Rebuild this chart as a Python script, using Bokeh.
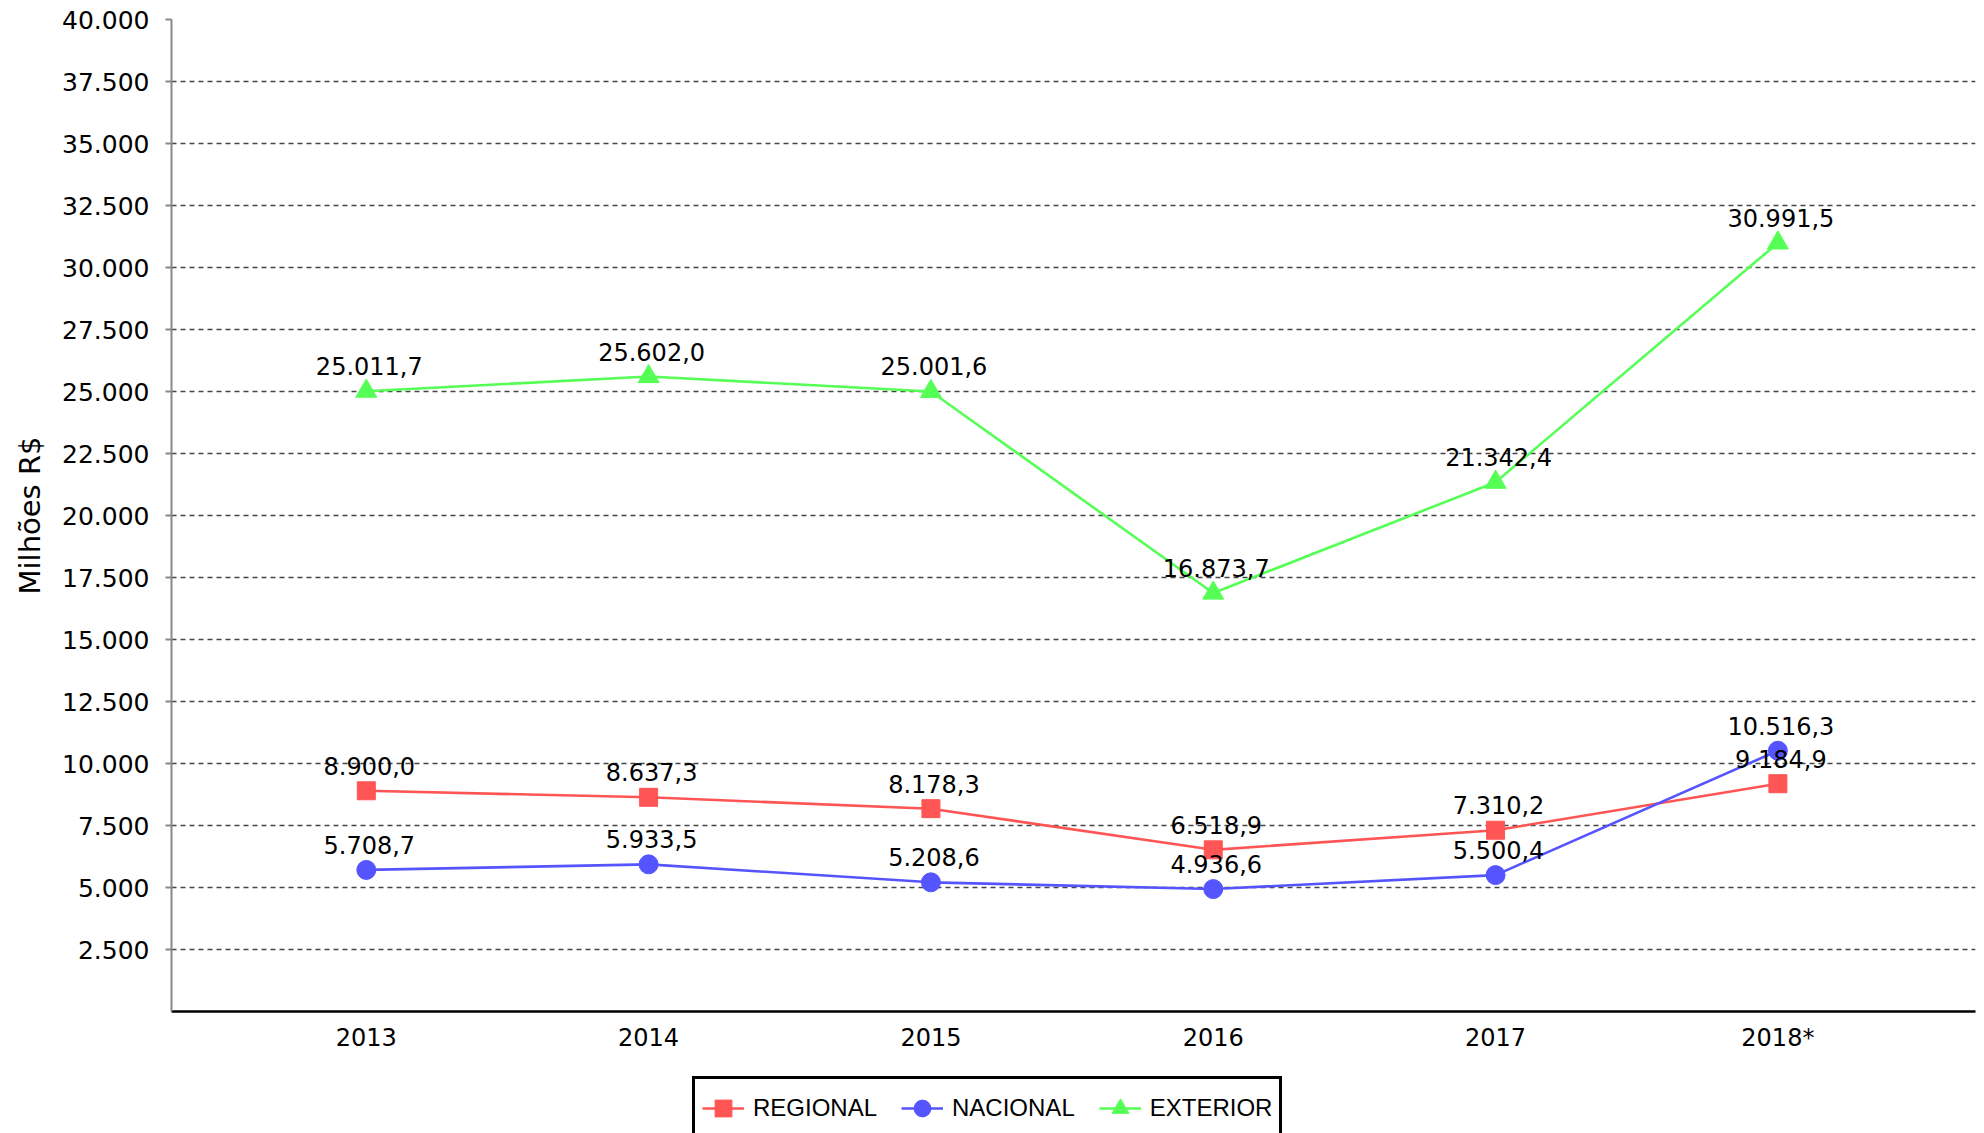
from bokeh.plotting import figure
from bokeh.models import Range1d, FixedTicker, ColumnDataSource, Legend, LegendItem
from bokeh.layouts import column
from bokeh.core.properties import value
from bokeh.embed import file_html
from bokeh.resources import INLINE

# ---- data ----
categories = ["2013", "2014", "2015", "2016", "2017", "2018*"]
regional = [8900.0, 8637.3, 8178.3, 6518.9, 7310.2, 9184.9]
nacional = [5708.7, 5933.5, 5208.6, 4936.6, 5500.4, 10516.3]
exterior = [25011.7, 25602.0, 25001.6, 16873.7, 21342.4, 30991.5]
y_ticks = [2500, 5000, 7500, 10000, 12500, 15000, 17500, 20000,
           22500, 25000, 27500, 30000, 32500, 35000, 37500, 40000]
y_title = "Milhões R$"


def br(v, dec):
    s = f"{v:,.{dec}f}"
    return s.replace(",", "X").replace(".", ",").replace("X", ".")


FONT = "DejaVu Sans"

p = figure(width=1976, height=1072, output_backend="svg", toolbar_location=None,
           x_range=Range1d(-0.69, 5.70), y_range=Range1d(0, 40000))
p.min_border_left = 171
p.min_border_right = 1
p.min_border_top = 19
p.min_border_bottom = 61
p.outline_line_color = None
p.background_fill_color = "white"
p.border_fill_color = "white"

# axes
xa = p.xaxis[0]
xa.ticker = FixedTicker(ticks=list(range(len(categories))))
xa.major_label_overrides = {i: c for i, c in enumerate(categories)}
xa.axis_line_color = "black"
xa.axis_line_width = 2.5
xa.major_tick_line_color = None
xa.minor_tick_line_color = None
xa.major_tick_out = 0
xa.major_tick_in = 0
xa.major_label_text_font = FONT
xa.major_label_text_font_size = "24px"
xa.major_label_text_color = "black"
xa.major_label_standoff = 12

ya = p.yaxis[0]
ya.ticker = FixedTicker(ticks=y_ticks)
ya.major_label_overrides = {t: br(t, 0) for t in y_ticks}
ya.axis_line_color = "#888888"
ya.axis_line_width = 2
ya.major_tick_line_color = "#888888"
ya.major_tick_line_width = 2
ya.major_tick_out = 6
ya.major_tick_in = 0
ya.minor_tick_line_color = None
ya.major_label_text_font = FONT
ya.major_label_text_font_size = "25px"
ya.major_label_text_color = "black"
ya.major_label_standoff = 16
ya.axis_label = y_title
ya.axis_label_text_font = FONT
ya.axis_label_text_font_size = "29px"
ya.axis_label_text_font_style = "normal"
ya.axis_label_text_color = "black"
ya.axis_label_standoff = 12

p.xgrid.grid_line_color = None
p.ygrid.grid_line_color = "#444444"
p.ygrid.grid_line_dash = "5 4"
p.ygrid.grid_line_width = 1.3

xs = list(range(len(categories)))
series = [
    ("REGIONAL", regional, "#FF5555", "square", 18),
    ("NACIONAL", nacional, "#5555FF", "circle", 19),
    ("EXTERIOR", exterior, "#55FF55", "triangle", 21),
]

for name, vals, color, marker, size in series:
    src = ColumnDataSource(dict(x=xs, y=vals))
    p.line("x", "y", source=src, line_color=color, line_width=2.6)
    p.scatter("x", "y", source=src, marker=marker, size=size,
              fill_color=color, line_color=color)

for name, vals, color, marker, size in series:
    src = ColumnDataSource(dict(x=xs, y=vals, lab=[br(v, 1) for v in vals]))
    p.text("x", "y", text="lab", source=src, text_align="center",
           text_baseline="alphabetic", y_offset=-25, x_offset=3,
           text_font_size="24px", text_color="black", text_font=value(FONT))

# ---- legend strip below the chart ----
lp = figure(width=1976, height=61, output_backend="svg", toolbar_location=None,
            x_range=Range1d(0, 1), y_range=Range1d(0, 1),
            x_axis_location=None, y_axis_location=None, min_border=0)
lp.outline_line_color = None
lp.xgrid.grid_line_color = None
lp.ygrid.grid_line_color = None
items = []
for name, vals, color, marker, size in series:
    # same series (off the strip's visible range) so that legend swatches are drawn
    r1 = lp.line(xs, vals, line_color=color, line_width=2.6)
    r2 = lp.scatter(xs, vals, marker=marker, size=size, fill_color=color, line_color=color)
    items.append(LegendItem(label=name, renderers=[r1, r2]))

legend = Legend(items=items, orientation="horizontal", location=(521, -7))
legend.label_text_font = "Liberation Sans"
legend.label_text_font_size = "24px"
legend.label_text_color = "black"
legend.glyph_width = 42
legend.glyph_height = 44
legend.label_height = 44
legend.label_standoff = 9
legend.spacing = 24
legend.padding = 7
legend.margin = 0
legend.border_line_color = "black"
legend.border_line_alpha = 1
legend.border_line_width = 3
legend.background_fill_color = "white"
legend.background_fill_alpha = 1
lp.add_layout(legend, "center")

layout = column(p, lp, spacing=0)
open("out.html", "w").write(file_html(layout, INLINE))
